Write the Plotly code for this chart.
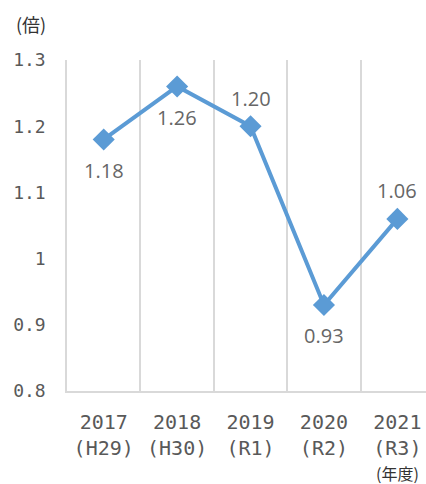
import plotly.graph_objects as go

categories = ["2017<br>(H29)", "2018<br>(H30)", "2019<br>(R1)", "2020<br>(R2)", "2021<br>(R3)"]
values = [1.18, 1.26, 1.20, 0.93, 1.06]
label_text = ["1.18", "1.26", "1.20", "0.93", "1.06"]
label_side = ["below", "below", "above", "below", "above"]
y_ticks = [0.8, 0.9, 1.0, 1.1, 1.2, 1.3]
y_tick_text = ["0.8", "0.9", "1", "1.1", "1.2", "1.3"]

LINE = "#5B9BD5"
TXT = "#595959"
GRID = "#D9D9D9"

W, H = 426, 484
l, r, t, b = 67, 0, 60, 93
pw, ph = W - l - r, H - t - b


def px(x):
    return (x - l) / pw


def py(y):
    return (H - b - y) / ph


fig = go.Figure()
fig.add_trace(go.Scatter(
    x=categories, y=values, mode="lines+markers",
    line=dict(color=LINE, width=4),
    marker=dict(symbol="diamond", size=17, color=LINE),
    hoverinfo="skip", showlegend=False,
))

for c, v, txt, s in zip(categories, values, label_text, label_side):
    fig.add_annotation(
        x=c, y=v, xref="x", yref="y", text=txt, showarrow=False,
        yshift=(-31 if s == "below" else 28),
        font=dict(family="Open Sans", size=20, color="#666666"),
    )

fig.add_annotation(x=px(31), y=py(24), xref="paper", yref="paper", text="(倍)",
                   showarrow=False, xanchor="center", yanchor="middle",
                   font=dict(family="Noto Sans CJK JP", size=18, color="#333333"))
fig.add_annotation(x=px(397), y=py(473), xref="paper", yref="paper", text="(年度)",
                   showarrow=False, xanchor="center", yanchor="middle",
                   font=dict(family="Noto Sans CJK JP", size=16, color="#333333"))

fig.update_layout(
    width=W, height=H,
    margin=dict(l=l, r=r, t=t, b=b),
    paper_bgcolor="white", plot_bgcolor="white",
    xaxis=dict(
        type="category", tickson="boundaries", range=[-0.5, 4.39],
        showgrid=True, gridcolor=GRID, gridwidth=1.5,
        showline=True, linecolor=GRID, linewidth=1.5,
        ticks="", ticklabelstandoff=12,
        tickfont=dict(family="DejaVu Sans Mono", size=20, color=TXT),
    ),
    yaxis=dict(
        range=[0.8, 1.3], tickvals=y_ticks, ticktext=y_tick_text,
        showgrid=False, zeroline=False,
        showline=True, linecolor=GRID, linewidth=1.5,
        ticks="", ticklabelstandoff=16,
        tickfont=dict(family="DejaVu Sans Mono", size=18, color=TXT),
    ),
    font=dict(family="Noto Sans CJK JP", color=TXT),
)

fig.write_html("out.html")
